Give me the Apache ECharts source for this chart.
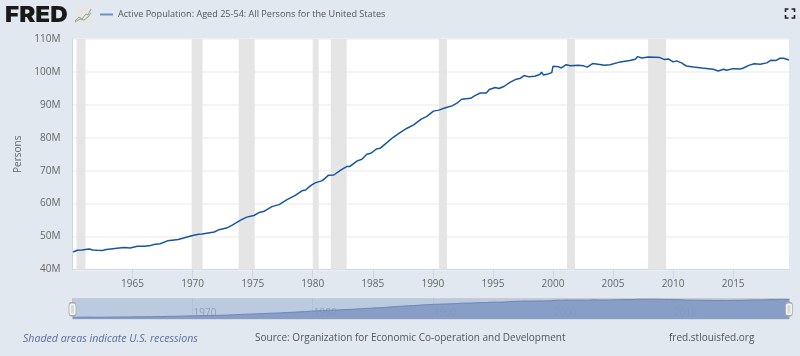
<!DOCTYPE html>
<html><head><meta charset="utf-8">
<style>html,body{margin:0;padding:0;background:#e1e8f0}#c{width:800px;height:356px}</style>
<script src="https://cdn.jsdelivr.net/npm/echarts@6/dist/echarts.min.js"></script>
</head><body><div id="c"></div>
<script>
const seriesName = 'Active Population: Aged 25-54: All Persons for the United States';
const years = [1960.05,1960.4,1960.8,1961.05,1961.4,1961.7,1962.05,1962.5,1962.8,1963.2,1963.7,1964.3,1964.8,1965.4,1966,1966.5,1966.9,1967.3,1967.9,1968.3,1968.8,1969.4,1970,1970.5,1970.8,1971.3,1971.8,1972.2,1972.9,1973.3,1974,1974.5,1975.1,1975.6,1975.9,1976.6,1977.2,1977.9,1978.55,1979.1,1979.4,1979.8,1980.2,1980.8,1981.3,1981.75,1982.3,1982.85,1983.1,1983.7,1984.1,1984.5,1984.85,1985.3,1985.6,1986.2,1986.7,1987.3,1987.85,1988.4,1989,1989.5,1990.05,1990.5,1991.05,1991.6,1992,1992.4,1993.15,1993.5,1993.95,1994.45,1994.7,1995.2,1995.5,1995.95,1996.45,1996.95,1997.3,1997.6,1998,1998.5,1998.9,1999.05,1999.2,1999.6,1999.9,2000,2000.45,2000.7,2001.1,2001.45,2002.1,2002.55,2002.85,2003.3,2003.9,2004.25,2004.76,2005.6,2006.4,2006.85,2007.05,2007.4,2007.95,2008.5,2008.9,2009.3,2009.6,2010,2010.3,2010.7,2011.1,2011.7,2012.4,2012.95,2013.35,2013.75,2014.2,2014.45,2015,2015.6,2015.85,2016.3,2016.75,2017.25,2017.8,2018.15,2018.55,2018.9,2019.2,2019.65];
const persons = [45.3,45.85,45.95,46.05,46.25,45.95,45.85,45.75,46.05,46.25,46.45,46.65,46.55,47.05,47.05,47.3,47.7,47.8,48.7,48.9,49.1,49.7,50.3,50.7,50.8,51.1,51.4,52.1,52.7,53.5,55,55.9,56.4,57.4,57.6,59.1,59.7,61.3,62.5,63.9,64.15,65.4,66.3,67,68.6,68.7,70.1,71.3,71.3,73,73.5,75,75.3,76.6,76.8,78.6,80.15,81.65,82.9,83.9,85.6,86.5,88.1,88.4,89.1,89.7,90.5,91.7,92,92.8,93.6,93.6,94.65,95.25,94.95,95.65,96.9,97.8,98.1,98.9,98.5,98.7,99.2,99.9,99.1,99.4,99.8,101.7,101.6,101.2,102.2,101.85,102,101.85,101.45,102.55,102.25,102.05,102.2,103.05,103.45,103.85,104.65,104.25,104.55,104.45,104.35,103.75,103.95,103.05,103.35,102.75,101.8,101.5,101.2,101,100.8,100.3,100.8,100.5,101,100.9,101.2,102,102.5,102.3,102.75,103.55,103.45,104.15,104.15,103.65];
const recessionStarts = [1960.33,1969.92,1973.83,1980,1981.5,1990.5,2001.17,2007.92];
const recessionEnds = [1961.08,1970.83,1975.17,1980.5,1982.83,1991.17,2001.83,2009.42];
const tickYears = [1965,1970,1975,1980,1985,1990,1995,2000,2005,2010,2015];
const xStart = 1960, xEnd = 2019.65;
const points = years.map((y,i)=>[y,persons[i]]);
const font = '"Open Sans", sans-serif';
const chart = echarts.init(document.getElementById('c'),null,{renderer:'canvas'});
const cornerStyle = {stroke:'#222',lineWidth:1.6,fill:'none'};
chart.setOption({
  animation:false,
  backgroundColor:'#e1e8f0',
  textStyle:{fontFamily:font},
  legend:{left:100,top:10,padding:0,icon:'rect',itemWidth:13,itemHeight:2,itemGap:4,selectedMode:false,
    data:[{name:seriesName,itemStyle:{color:'#6e8fbf'}}],
    textStyle:{fontFamily:font,fontSize:9.1,color:'#555',padding:[0,0,0,0]}},
  grid:[
    {left:72.5,right:11,top:39,bottom:86.5,show:true,backgroundColor:'#fff',borderWidth:0},
    {left:72.5,right:11,top:298.5,bottom:37,show:true,backgroundColor:'#bccae0',borderColor:'#c9ccd3',borderWidth:1}
  ],
  xAxis:[
    {type:'value',gridIndex:0,min:xStart,max:xEnd,interval:5,
      axisLine:{show:true,onZero:false,lineStyle:{color:'#ccd6eb',width:1}},
      axisTick:{show:true,length:9,lineStyle:{color:'#ccd6eb'},customValues:tickYears},
      axisLabel:{color:'#666',fontSize:10,fontFamily:font,margin:9.5,customValues:tickYears,formatter:v=>String(v)},
      splitLine:{show:false}},
    {type:'value',gridIndex:1,min:1960,max:xEnd,interval:10,
      axisLine:{show:false},axisTick:{show:false},
      axisLabel:{inside:true,color:'#97a0b3',fontSize:10,fontFamily:font,margin:1,align:'left',padding:[0,0,0,1],showMinLabel:false,showMaxLabel:false,formatter:v=>String(v)},
      splitLine:{show:true,lineStyle:{color:'#b2c1d9',width:1}}}
  ],
  yAxis:[
    {type:'value',gridIndex:0,min:40,max:110,interval:10,name:'Persons',nameLocation:'middle',nameGap:48,nameRotate:90,
      nameTextStyle:{color:'#666',fontSize:10,fontFamily:font},
      axisLine:{show:true,lineStyle:{color:'#ccd6eb'}},axisTick:{show:false},
      axisLabel:{color:'#666',fontSize:10,fontFamily:font,margin:12,padding:[2,0,0,0],formatter:v=>v+'M'},
      splitLine:{show:true,lineStyle:{color:'#f0f0f0',width:1.5}}},
    {type:'value',gridIndex:1,min:40,max:107,show:false,splitLine:{show:false}}
  ],
  series:[
    {type:'line',name:'Recessions',xAxisIndex:0,yAxisIndex:0,data:[],z:1,silent:true,
      markArea:{silent:true,itemStyle:{color:'#e5e5e5'},label:{show:false},
        data:recessionStarts.map((s,i)=>[{xAxis:s},{xAxis:recessionEnds[i]}])}},
    {type:'line',name:seriesName,xAxisIndex:0,yAxisIndex:0,data:points,showSymbol:false,symbol:'none',z:3,
      lineStyle:{color:'#17569f',width:1.5},itemStyle:{color:'#17569f'}},
    {type:'line',name:'Navigator',xAxisIndex:1,yAxisIndex:1,data:points,showSymbol:false,symbol:'none',z:3,
      lineStyle:{color:'#6a88b8',width:1},areaStyle:{color:'#7f97c1',opacity:0.85,origin:'start'}},
    {type:'scatter',name:'HandleOuter',xAxisIndex:1,yAxisIndex:1,data:[[xStart,72],[xEnd,72]],symbol:'roundRect',symbolSize:[7,13],clip:false,z:5,silent:true,
      itemStyle:{color:'#f2f2f2',borderColor:'#a8a8a8',borderWidth:1,opacity:1}},
    {type:'scatter',name:'HandleInner',xAxisIndex:1,yAxisIndex:1,data:[[xStart,72],[xEnd,72]],symbol:'rect',symbolSize:[3,8],clip:false,z:6,silent:true,
      itemStyle:{color:'#d9d9d9',opacity:1}}
  ],
  graphic:[
    {type:'text',left:5,top:4,scaleX:1.1,style:{text:'FRED',font:'900 22px Inter, sans-serif',fill:'#1a1a1a'}},
    {type:'rect',shape:{x:74,y:7,width:18.5,height:16},style:{fill:'#e6e6e4'}},
    {type:'polyline',shape:{points:[[75,21],[79,17],[82,19],[86,14],[88,15],[91,9]]},style:{stroke:'#8aa0b8',lineWidth:1,fill:'none'}},
    {type:'polyline',shape:{points:[[75,22],[80,19],[84,20],[88,17],[91,13]]},style:{stroke:'#9aa76a',lineWidth:1,fill:'none'}},
    {type:'polyline',shape:{points:[[785.5,12],[785.5,9],[788.5,9]]},style:cornerStyle},
    {type:'polyline',shape:{points:[[791.5,9],[794.5,9],[794.5,12]]},style:cornerStyle},
    {type:'polyline',shape:{points:[[785.5,15],[785.5,18],[788.5,18]]},style:cornerStyle},
    {type:'polyline',shape:{points:[[791.5,18],[794.5,18],[794.5,15]]},style:cornerStyle},
    {type:'text',left:23,top:333,style:{text:'Shaded areas indicate U.S. recessions',font:'italic 10.6px "Open Sans", sans-serif',fill:'#5a6f9f'}},
    {type:'text',left:255,top:333,style:{text:'Source: Organization for Economic Co-operation and Development',font:'10px "Open Sans", sans-serif',fill:'#555'}},
    {type:'text',left:669,top:333,style:{text:'fred.stlouisfed.org',font:'10px "Open Sans", sans-serif',fill:'#555'}}
  ]
});
</script></body></html>
